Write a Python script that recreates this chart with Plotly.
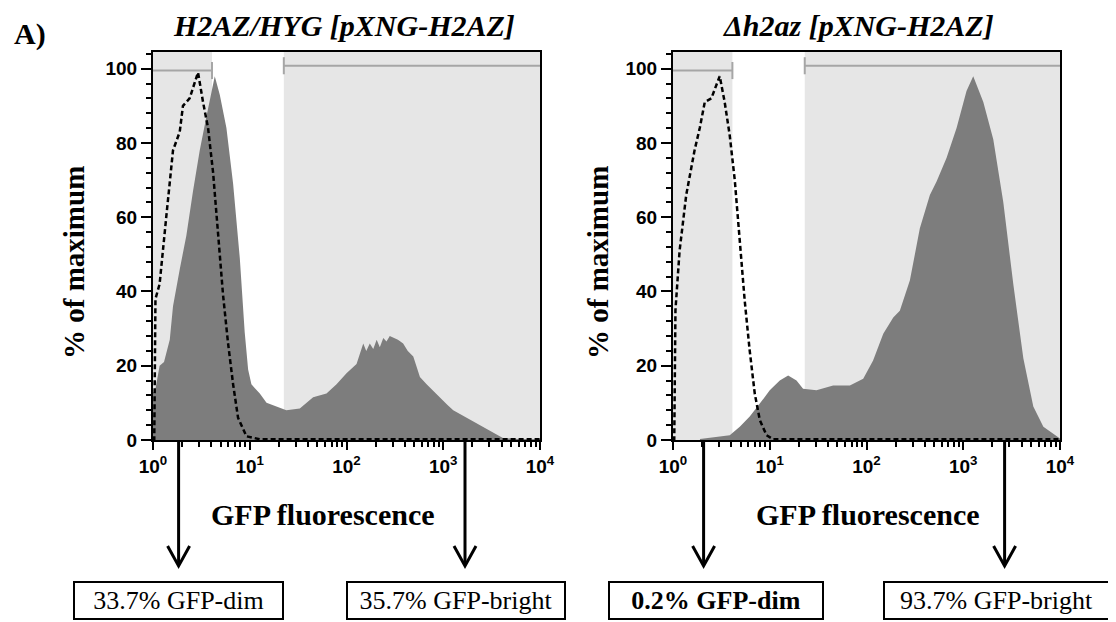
import plotly.graph_objects as go

# page body adds an 8px offset; figure sized to fit the window
OFF = 8
W, H = 1116 - OFF, 622 - OFF

# ---------------- data ----------------
titles = ["<i>H2AZ/HYG [pXNG-H2AZ]</i>", "<i>Δh2az [pXNG-H2AZ]</i>"]
x_title = "GFP fluorescence"
y_title = "% of maximum"
panel_label = "A)"

# sample (filled grey) histogram, left panel
left_fill_x = [1.0, 1.04, 1.17, 1.3, 1.49, 1.61, 1.89, 2.21, 2.59, 3.04, 3.56, 4.18, 4.35, 4.90, 5.74,
               6.73, 7.89, 8.87, 9.62, 10.4, 12.7, 14.9, 18.9, 23.9, 32.9, 45.2, 62.1, 78.9, 100, 127,
               149, 160, 174, 189, 205, 221, 240, 259, 280, 304, 340, 385, 430, 490, 574, 673, 800,
               925, 1100, 1268, 1742, 2393, 3289, 4178, 6000, 10000]
left_fill_y = [13, 12.5, 20, 21, 27, 36, 46, 55, 67, 78, 87, 96, 98, 93, 84,
               69, 49, 29, 19, 15, 12.5, 10, 9, 8, 8.5, 11.5, 12.5, 15, 18, 20.5,
               26, 24, 26, 24.5, 27, 25, 27.5, 26.5, 28, 27.5, 27, 26, 24, 22.5, 17, 15, 13,
               11.5, 9.5, 8, 6, 4, 2, 0.5, 0.3, 0.2]

# control (dashed) histogram, left panel
left_ctrl_x = [1.0, 1.03, 1.06, 1.17, 1.37, 1.61, 1.89, 2.04, 2.39, 2.92, 3.29, 3.71, 4.18, 4.70,
               5.30, 5.97, 6.73, 7.57, 9.25, 12.7, 10000]
left_ctrl_y = [0, 0, 38, 42, 60, 78, 83, 90, 92, 99, 91, 84, 72, 55,
               39, 26, 15, 6, 1, 0.2, 0.2]

# sample (filled grey) histogram, right panel
right_fill_x = [1.9, 2.21, 3.86, 4.90, 6.21, 7.89, 10.0, 12.7, 15.5, 18.9, 22.1, 30.4, 45.2, 67.3,
                92.5, 117, 149, 189, 221, 281, 356, 452, 530, 673, 853, 1081, 1268, 1611, 2042,
                2594, 3289, 4178, 5297, 6730, 9247, 10000]
right_fill_y = [0.3, 0.5, 1.3, 3.6, 6.3, 9.8, 13.4, 16, 17.4, 16, 13.8, 13.4, 14.7, 14.7,
                16.5, 21.4, 28.6, 33, 34.8, 43, 57, 66, 69.6, 76, 84, 94, 98, 91, 81,
                64, 42, 22, 9, 3.6, 0.9, 0.4]

# control (dashed) histogram, right panel
right_ctrl_x = [1.0, 1.03, 1.06, 1.17, 1.37, 1.67, 1.89, 2.13, 2.49, 3.04, 3.42, 3.86, 4.35, 4.90,
                5.51, 6.21, 7.00, 7.89, 9.25, 10.8, 10000]
right_ctrl_y = [0, 0, 35, 51, 66, 78, 84, 91, 92, 98, 91, 82, 70, 54,
                37.5, 24, 12.5, 5.4, 1.3, 0.2, 0.2]

# gates: [dim_low, dim_high, bright_low, bright_high]
left_gates = [1.0, 4.07, 22.5, 10000]
right_gates = [1.0, 4.11, 23.0, 10000]
gate_bar_y = [99.5, 100.8]

box_texts = ["33.7% GFP-dim", "35.7% GFP-bright", "<b>0.2% GFP-dim</b>", "93.7% GFP-bright"]

x_tickvals = [1, 10, 100, 1000, 10000]
x_ticktext = ["10<sup>0</sup>", "10<sup>1</sup>", "10<sup>2</sup>", "10<sup>3</sup>", "10<sup>4</sup>"]
x_minor = [m * 10 ** d for d in range(4) for m in range(2, 10)]
y_tickvals = [0, 20, 40, 60, 80, 100]
Y_TOP = 104.5

# ---------------- figure ----------------
SERIF = "Liberation Serif"
SANS = "Liberation Sans"

def px(x):
    return (x - OFF) / W

def py(y):
    return 1 - (y - OFF) / H

fig = go.Figure()

panels = [
    ("x", "y", left_gates, left_fill_x, left_fill_y, left_ctrl_x, left_ctrl_y),
    ("x2", "y2", right_gates, right_fill_x, right_fill_y, right_ctrl_x, right_ctrl_y),
]

for xa, ya, g, fx, fy, cx, cy in panels:
    # gate shading
    for lo, hi in [(g[0], g[1]), (g[2], g[3])]:
        fig.add_trace(go.Scatter(x=[lo, hi, hi, lo, lo], y=[0, 0, Y_TOP, Y_TOP, 0], fill="toself",
                                 fillcolor="#e6e6e6", line=dict(width=0), mode="lines",
                                 hoverinfo="skip", showlegend=False, xaxis=xa, yaxis=ya))
    # filled histogram
    fig.add_trace(go.Scatter(x=fx, y=fy, fill="tozeroy", fillcolor="#7d7d7d", mode="lines",
                             line=dict(width=0, color="#7d7d7d"), showlegend=False, xaxis=xa, yaxis=ya))
    # gate bars
    for (lo, hi), by in zip([(g[0], g[1]), (g[2], g[3])], gate_bar_y):
        fig.add_trace(go.Scatter(x=[lo, hi], y=[by, by], mode="lines",
                                 line=dict(color="#a6a6a6", width=2), showlegend=False,
                                 hoverinfo="skip", xaxis=xa, yaxis=ya))
    for edge, by in [(g[1], gate_bar_y[0]), (g[2], gate_bar_y[1])]:
        fig.add_trace(go.Scatter(x=[edge, edge], y=[by - 2.3, by + 2.3], mode="lines",
                                 line=dict(color="#a6a6a6", width=2), showlegend=False,
                                 hoverinfo="skip", xaxis=xa, yaxis=ya))
    # control dashed
    fig.add_trace(go.Scatter(x=cx, y=cy, mode="lines",
                             line=dict(color="black", width=2.5, dash="5px,3px"),
                             showlegend=False, xaxis=xa, yaxis=ya))

ydom = [py(440), py(52)]
xaxis_common = dict(type="log", range=[0, 4], tickvals=x_tickvals, ticktext=x_ticktext,
                    ticks="outside", ticklen=8, tickwidth=2, tickcolor="black", automargin=False,
                    minor=dict(tickvals=x_minor, ticks="outside", ticklen=5, tickwidth=1.5, tickcolor="black"),
                    showline=True, linecolor="black", linewidth=2, mirror=True, showgrid=False,
                    zeroline=False, tickfont=dict(family=SANS, size=19, color="black", weight="bold"))
yaxis_common = dict(range=[0, Y_TOP], tickvals=y_tickvals, ticks="outside", ticklen=10, tickwidth=2,
                    tickcolor="black", automargin=False,
                    minor=dict(dtick=4, ticks="outside", ticklen=5, tickwidth=1.5, tickcolor="black"),
                    showline=True, linecolor="black", linewidth=2, mirror=True, showgrid=False,
                    zeroline=False, tickfont=dict(family=SANS, size=19, color="black", weight="bold"))

fig.update_layout(
    width=W, height=H, margin=dict(l=0, r=0, t=0, b=0, pad=0), autosize=False,
    paper_bgcolor="white", plot_bgcolor="white", showlegend=False,
    xaxis=dict(domain=[px(153), px(540)], anchor="y", **xaxis_common),
    yaxis=dict(domain=ydom, anchor="x", **yaxis_common),
    xaxis2=dict(domain=[px(673), px(1060)], anchor="y2", **xaxis_common),
    yaxis2=dict(domain=ydom, anchor="x2", **yaxis_common),
)

def label(text, x, y, size, **kw):
    return dict(text=text, x=px(x), y=py(y), xref="paper", yref="paper", showarrow=False,
                xanchor="center", yanchor="middle",
                font=dict(family=SERIF, size=size, color="black", weight=kw.pop("weight", "bold")), **kw)

ann = [label(panel_label, 30, 34, 30)]
for t, cx in zip(titles, [344, 858]):
    ann.append(label(t, cx, 25, 30))
for cx in [323, 868]:
    ann.append(label(x_title, cx, 514, 30))
for cx in [74, 598]:
    ann.append(label(y_title, cx, 263, 29, textangle=-90))
box_geo = [(73, 284), (346, 566), (608, 824), (883, 1110)]
for t, (x0, x1) in zip(box_texts, box_geo):
    ann.append(label(t, (x0 + x1) / 2, 600, 26, weight="normal", width=x1 - x0 - 4, height=35,
                     borderpad=0, bordercolor="black", borderwidth=2, bgcolor="white",
                     align="center", valign="middle"))
fig.update_layout(annotations=ann)

shapes = []
for ax in [178.6, 465, 703.6, 1004.6]:
    shapes.append(dict(type="line", xref="paper", yref="paper", x0=px(ax), x1=px(ax), y0=py(441), y1=py(565),
                       line=dict(color="black", width=3)))
    shapes.append(dict(type="path", xref="paper", yref="paper",
                       path=f"M {px(ax - 11)} {py(546)} L {px(ax)} {py(566)} L {px(ax + 11)} {py(546)}",
                       line=dict(color="black", width=3)))
fig.update_layout(shapes=shapes)

fig.write_html("out.html")
